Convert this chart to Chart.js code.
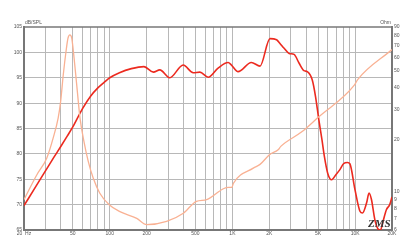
<!DOCTYPE html>
<html><head><meta charset="utf-8">
<script src="https://cdn.jsdelivr.net/npm/chart.js@4"></script>
<style>html,body{margin:0;padding:0;background:#fff}#wrap{width:416px;height:252px}</style>
</head><body><div id="wrap"><canvas id="c" width="416" height="252"></canvas></div>
<script>
// Frequency response (dB SPL)
const splFreq = [20,25,30,35,40,45,50,60,70,80,90,100,120,150,190,227,256,308,397,479,543,634,764,922,982,1112,1427,1679,2025,2291,2433,2641,2897,3182,3490,3827,4075,4473,4760,5066,5370,5620,5980,6440,6980,7520,8050,8670,9070,9990,10960,11500,12400,13000,13600,14500,15400,16100,16900,18000,19150,20000];
const splValues = [69.8,73.6,76.7,79.3,81.5,83.5,85.3,88.9,91.4,93.0,94.1,95.0,96.0,96.8,97.2,96.1,96.55,95.0,97.5,96.0,96.1,95.1,96.9,98.0,97.5,96.2,98.0,97.3,102.7,102.5,101.8,100.8,99.8,99.6,97.9,96.4,96.2,94.6,91.3,86.7,82.8,79.5,76.2,74.9,75.9,76.9,78.05,78.3,78.05,72.9,68.7,68.35,70.3,72.3,71.0,67.0,65.2,65.0,66.7,69.0,70.0,71.5];
// Impedance (Ohm)
const zFreq = [20,25.4,30.7,34.6,38.0,39.8,41.8,44.0,45.7,47.3,49.0,51.2,53.8,57.2,61.6,66.8,73.3,83,99,121,166,200,291,398,509,617,844,929,990,1020,1480,1680,2010,2360,2480,3700,4950,9900,10500,20000];
const zValues = [9.0,12.5,15.7,20.5,26.8,33.4,47.6,64.9,77.7,81.0,77.7,59.5,41.6,26.8,19.6,15.0,12.0,9.8,8.4,7.66,7.0,6.44,6.73,7.5,8.8,9.0,10.4,10.6,10.6,11.2,13.7,14.4,16.4,17.5,18.3,22.3,26.8,41.6,44.6,66.6];
// Axes
const freqGrid = [20,30,40,50,60,70,80,90,100,200,300,400,500,600,700,800,900,1000,2000,3000,4000,5000,6000,7000,8000,9000,10000,20000];
const freqLabels = {20:'20  Hz',50:'50',100:'100',200:'200',500:'500',1000:'1K',2000:'2K',5000:'5K',10000:'10K',20000:'20K'};
const splTicks = [65,70,75,80,85,90,95,100,105];
const ohmTicks = [6,7,8,9,10,20,30,40,50,60,70,80,90];

const splData = splFreq.map((f,i)=>({x:f,y:splValues[i]}));
const zData = zFreq.map((f,i)=>({x:f,y:zValues[i]}));
const tickFont = {family:'Liberation Sans, Arial, sans-serif', size:5};

const extras = {
  id:'extras',
  afterDraw(chart){
    const {ctx, chartArea:a} = chart;
    ctx.save();
    ctx.strokeStyle='#777'; ctx.lineWidth=1.5;
    ctx.beginPath(); ctx.moveTo(a.left,a.top); ctx.lineTo(a.right,a.top); ctx.stroke();
    ctx.fillStyle='#555';
    ctx.font='5px Liberation Sans, Arial, sans-serif';
    ctx.textBaseline='bottom';
    ctx.textAlign='left'; ctx.fillText('dB/SPL', a.left+1, a.top-2);
    ctx.textAlign='right'; ctx.fillText('Ohm', a.right-1, a.top-2);
    ctx.fillStyle='#333';
    ctx.font='italic bold 11px Liberation Serif, serif';
    ctx.textAlign='left'; ctx.textBaseline='alphabetic';
    ctx.fillText('ZMS', 368, 227);
    ctx.restore();
  }
};

new Chart(document.getElementById('c'), {
  type:'line',
  data:{datasets:[
    {label:'Impedance', data:zData, yAxisID:'yz', borderColor:'#f9b193', borderWidth:1.3, pointRadius:0, cubicInterpolationMode:'monotone', fill:false},
    {label:'SPL', data:splData, yAxisID:'y', borderColor:'#ec2a1f', borderWidth:1.6, pointRadius:0, cubicInterpolationMode:'monotone', fill:false}
  ]},
  options:{
    responsive:false, animation:false,
    layout:{padding:{top:27,left:0,right:0,bottom:0}},
    plugins:{legend:{display:false}, tooltip:{enabled:false}},
    scales:{
      x:{type:'logarithmic', min:20, max:20000,
        afterBuildTicks(s){ s.ticks = freqGrid.map(v=>({value:v})); },
        afterFit(s){ s.height = 22; },
        ticks:{autoSkip:false, maxRotation:0, padding:1, color:'#555', font:tickFont,
          callback:(v)=>freqLabels[v]||''},
        grid:{color:'#b8b8b8', lineWidth:1, drawTicks:false},
        border:{display:true, color:'#777', width:2}
      },
      y:{type:'linear', position:'left', min:65, max:105,
        afterBuildTicks(s){ s.ticks = splTicks.map(v=>({value:v})); },
        afterFit(s){ s.width = 24; },
        ticks:{padding:2, color:'#555', font:tickFont},
        grid:{color:(c)=>c.tick && c.tick.value===105 ? 'rgba(0,0,0,0)' : '#b8b8b8', lineWidth:1, drawTicks:false},
        border:{display:true, color:'#777', width:2}
      },
      yz:{type:'logarithmic', position:'right', min:6, max:90,
        afterBuildTicks(s){ s.ticks = ohmTicks.map(v=>({value:v})); },
        afterFit(s){ s.width = 24; },
        ticks:{padding:2, color:'#555', font:tickFont, callback:(v)=>String(v)},
        grid:{display:false, drawTicks:false},
        border:{display:true, color:'#777', width:2}
      }
    }
  },
  plugins:[extras]
});
</script></body></html>
